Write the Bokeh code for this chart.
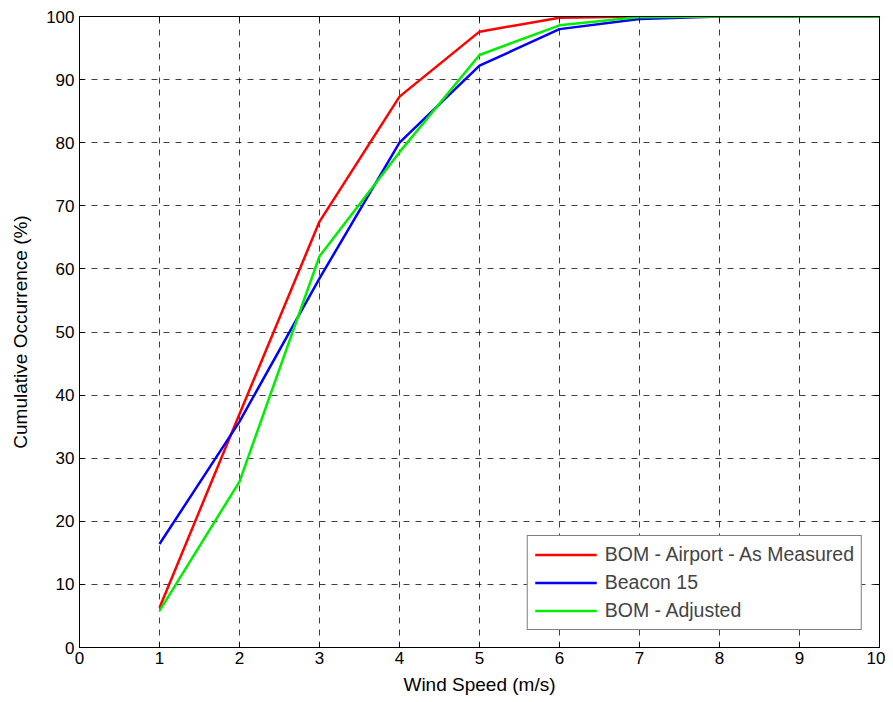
from bokeh.plotting import figure
from bokeh.models import LinearAxis, Range1d, FixedTicker, Legend, LegendItem
from bokeh.embed import file_html
from bokeh.resources import INLINE

wind_speed = [1, 2, 3, 4, 5, 6, 7, 8, 9, 10]
bom_airport = [6.3, 37.0, 67.5, 87.3, 97.6, 99.8, 100, 100, 100, 100]
beacon_15 = [16.4, 35.8, 58.5, 80.0, 92.2, 98.0, 99.6, 100, 100, 100]
bom_adjusted = [5.8, 26.3, 62.0, 78.5, 93.9, 98.6, 99.9, 100, 100, 100]
x_ticks = list(range(0, 11))
y_ticks = list(range(0, 101, 10))

FONT = "Liberation Sans"

p = figure(width=885, height=700, output_backend="svg", toolbar_location=None,
           x_range=Range1d(0, 10), y_range=Range1d(0, 100),
           min_border_left=79, min_border_right=6, min_border_top=16, min_border_bottom=53)

p.outline_line_color = "black"
p.outline_line_width = 1

for ax in (p.xaxis[0], p.yaxis[0]):
    ax.major_label_text_font = FONT
    ax.major_label_text_font_size = "17px"
    ax.major_label_text_color = "black"
    ax.axis_label_text_font = FONT
    ax.axis_label_text_font_size = "19px"
    ax.axis_label_text_font_style = "normal"
    ax.axis_label_text_color = "black"
    ax.major_tick_in = 5
    ax.major_tick_out = 0
    ax.minor_tick_line_color = None
    ax.axis_line_color = "black"
    ax.major_tick_line_color = "black"

p.xaxis[0].ticker = FixedTicker(ticks=x_ticks)
p.yaxis[0].ticker = FixedTicker(ticks=y_ticks)
p.xaxis[0].axis_label = "Wind Speed (m/s)"
p.yaxis[0].axis_label = "Cumulative Occurrence (%)"
p.xaxis[0].major_label_standoff = 4
p.yaxis[0].major_label_standoff = 5
p.xaxis[0].axis_label_standoff = 7
p.yaxis[0].axis_label_standoff = 12

top = LinearAxis(ticker=FixedTicker(ticks=x_ticks), major_label_text_font_size="0px",
                 major_tick_in=5, major_tick_out=0, minor_tick_line_color=None,
                 major_label_text_alpha=0)
right = LinearAxis(ticker=FixedTicker(ticks=y_ticks), major_label_text_font_size="0px",
                   major_tick_in=5, major_tick_out=0, minor_tick_line_color=None,
                   major_label_text_alpha=0)
p.add_layout(top, "above")
p.add_layout(right, "right")

p.xgrid.ticker = FixedTicker(ticks=x_ticks)
p.ygrid.ticker = FixedTicker(ticks=y_ticks)
for g in (p.xgrid[0], p.ygrid[0]):
    g.grid_line_color = "black"
    g.grid_line_alpha = 0.75
    g.grid_line_dash = "6 6"
    g.grid_line_width = 1

r1 = p.line(wind_speed, bom_airport, line_color="#ff0000", line_width=2.5)
r2 = p.line(wind_speed, beacon_15, line_color="#0000ff", line_width=2.5)
r3 = p.line(wind_speed, bom_adjusted, line_color="#00ee00", line_width=2.5)

legend = Legend(items=[
    LegendItem(label="BOM - Airport - As Measured", renderers=[r1]),
    LegendItem(label="Beacon 15", renderers=[r2]),
    LegendItem(label="BOM - Adjusted", renderers=[r3]),
], location="bottom_right")
legend.margin = 17
legend.padding = 7
legend.spacing = 5
legend.glyph_width = 62
legend.glyph_height = 19
legend.label_height = 19
legend.label_text_font = FONT
legend.label_text_font_size = "19.5px"
legend.label_standoff = 8
legend.border_line_color = "black"
legend.border_line_width = 1
legend.background_fill_alpha = 1
p.add_layout(legend, "center")

open("out.html", "w").write(file_html(p, INLINE))
